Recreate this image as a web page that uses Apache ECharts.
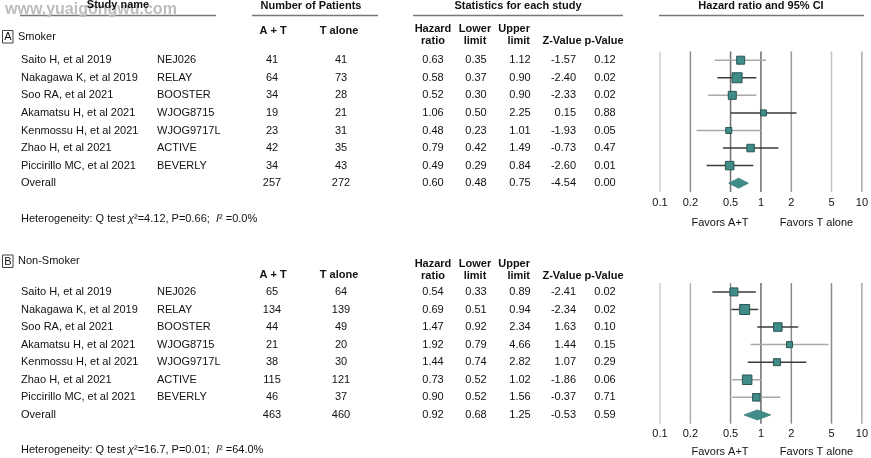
<!DOCTYPE html>
<html><head><meta charset="utf-8">
<script src="https://cdn.jsdelivr.net/npm/echarts@6/dist/echarts.min.js"></script>
<style>html,body{margin:0;padding:0;background:#fff}#main{width:871px;height:458px}</style>
</head><body><div id="main"></div>
<script>
// ---------------- DATA ----------------
const studyNames = ['Saito H, et al 2019','Nakagawa K, et al 2019','Soo RA, et al 2021','Akamatsu H, et al 2021','Kenmossu H, et al 2021','Zhao H, et al 2021','Piccirillo MC, et al 2021','Overall'];
const trialNames = ['NEJ026','RELAY','BOOSTER','WJOG8715','WJOG9717L','ACTIVE','BEVERLY',''];

const smokerAT    = [41, 64, 34, 19, 23, 42, 34, 257];
const smokerT     = [41, 73, 28, 21, 31, 35, 43, 272];
const smokerHR    = [0.63, 0.58, 0.52, 1.06, 0.48, 0.79, 0.49, 0.60];
const smokerLower = [0.35, 0.37, 0.30, 0.50, 0.23, 0.42, 0.29, 0.48];
const smokerUpper = [1.12, 0.90, 0.90, 2.25, 1.01, 1.49, 0.84, 0.75];
const smokerZ     = [-1.57, -2.40, -2.33, 0.15, -1.93, -0.73, -2.60, -4.54];
const smokerP     = [0.12, 0.02, 0.02, 0.88, 0.05, 0.47, 0.01, 0.00];
const smokerHet   = ['4.12', '0.66', '0.0%'];

const nonAT    = [65, 134, 44, 21, 38, 115, 46, 463];
const nonT     = [64, 139, 49, 20, 30, 121, 37, 460];
const nonHR    = [0.54, 0.69, 1.47, 1.92, 1.44, 0.73, 0.90, 0.92];
const nonLower = [0.33, 0.51, 0.92, 0.79, 0.74, 0.52, 0.52, 0.68];
const nonUpper = [0.89, 0.94, 2.34, 4.66, 2.82, 1.02, 1.56, 1.25];
const nonZ     = [-2.41, -2.34, 1.63, 1.44, 1.07, -1.86, -0.37, -0.53];
const nonP     = [0.02, 0.02, 0.10, 0.15, 0.29, 0.06, 0.71, 0.59];
const nonHet   = ['16.7', '0.01', '64.0%'];

const hrTicks = [0.1, 0.2, 0.5, 1, 2, 5, 10];

// ---------------- STYLE / LAYOUT ----------------
const FONT = '"Liberation Sans", Arial, Helvetica, sans-serif';
const TXT = '#111';
const FILL = '#3f8c88';
const EDGE = '#2b5553';
const ROW_STEP = 17.57;
const sizesA = [8, 10, 8, 6, 6, 7.5, 8.5];
const sizesB = [8, 10, 8.5, 6, 7, 9.5, 7.5];
const DARK = '#3a3a3a', LIGHT = '#a8a8a8';
const ciColA = [LIGHT, DARK, LIGHT, DARK, LIGHT, DARK, DARK];
const ciColB = [DARK, DARK, DARK, LIGHT, DARK, LIGHT, LIGHT];
const refColA = ['#cfcfcf', '#8c8c8c', '#707070', '#6a6a6a', '#9a9a9a', '#c4c4c4', '#a8a8a8'];
const refColB = ['#cfcfcf', '#b0b0b0', '#8a8a8a', '#6a6a6a', '#8a8a8a', '#8a8a8a', '#a8a8a8'];
// column anchors (x px) and alignment
const cols = [
  {x: 21,  align: 'left'},
  {x: 157, align: 'left'},
  {x: 272, align: 'center'},
  {x: 341, align: 'center'},
  {x: 433, align: 'center'},
  {x: 476, align: 'center'},
  {x: 520, align: 'center'},
  {x: 576, align: 'right'},
  {x: 605, align: 'center'}
];
const PLOT_LEFT = 660, PLOT_W = 205;

const panels = [
  {row0: 60.2, at: smokerAT, t: smokerT, hr: smokerHR, lo: smokerLower, hi: smokerUpper, z: smokerZ, p: smokerP,
   sizes: sizesA, ciCol: ciColA, refCol: refColA, het: smokerHet},
  {row0: 291.9, at: nonAT, t: nonT, hr: nonHR, lo: nonLower, hi: nonUpper, z: nonZ, p: nonP,
   sizes: sizesB, ciCol: ciColB, refCol: refColB, het: nonHet}
];

const grid = [], xAxis = [], yAxis = [], series = [];

panels.forEach((pn, k) => {
  const top = pn.row0 - ROW_STEP / 2;
  const h = ROW_STEP * 8;
  // table grid
  grid.push({left: 0, width: 871, top: top, height: h});
  xAxis.push({type: 'value', gridIndex: 2 * k, min: 0, max: 871, show: false});
  yAxis.push({type: 'value', gridIndex: 2 * k, min: -0.5, max: 7.5, inverse: true, show: false});
  // forest grid
  grid.push({left: PLOT_LEFT, width: PLOT_W, top: top, height: h});
  xAxis.push({
    type: 'log', logBase: 10, gridIndex: 2 * k + 1, min: 0.1, max: 10,
    axisLine: {show: false}, axisTick: {show: false}, splitLine: {show: false},
    axisLabel: {customValues: hrTicks, formatter: v => String(+(+v).toPrecision(3)), color: TXT, fontSize: 11, fontFamily: FONT, margin: 5, showMinLabel: true, showMaxLabel: true}
  });
  yAxis.push({type: 'value', gridIndex: 2 * k + 1, min: -0.5, max: 7.5, inverse: true, show: false});

  // table cells
  const cells = [];
  for (let i = 0; i < 8; i++) {
    const vals = [studyNames[i], trialNames[i], String(pn.at[i]), String(pn.t[i]),
      pn.hr[i].toFixed(2), pn.lo[i].toFixed(2), pn.hi[i].toFixed(2), pn.z[i].toFixed(2), pn.p[i].toFixed(2)];
    vals.forEach((v, c) => { if (v !== '') cells.push({x: cols[c].x, row: i, text: v, align: cols[c].align}); });
  }
  series.push({
    type: 'custom', xAxisIndex: 2 * k, yAxisIndex: 2 * k, silent: true,
    data: cells.map(c => [c.x, c.row]),
    encode: {x: 0, y: 1},
    renderItem: (params, api) => {
      const c = cells[params.dataIndex];
      const pt = api.coord([api.value(0), api.value(1)]);
      return {type: 'text', x: pt[0], y: pt[1], style: {text: c.text, fill: TXT, fontSize: 11, fontFamily: FONT, align: c.align, verticalAlign: 'middle'}};
    }
  });

  // reference vertical lines
  series.push({
    type: 'custom', xAxisIndex: 2 * k + 1, yAxisIndex: 2 * k + 1, silent: true,
    data: hrTicks.map(v => [v, 0]),
    encode: {x: 0, y: 1},
    renderItem: (params, api) => {
      const x = api.coord([api.value(0), 0])[0];
      const cs = params.coordSys;
      return {type: 'line', shape: {x1: x, y1: cs.y, x2: x, y2: cs.y + cs.height},
        style: {stroke: pn.refCol[params.dataIndex], lineWidth: 1.5}};
    }
  });

  // forest marks
  series.push({
    type: 'custom', xAxisIndex: 2 * k + 1, yAxisIndex: 2 * k + 1, silent: true, z: 5,
    data: pn.hr.map((v, i) => [i, v, pn.lo[i], pn.hi[i]]),
    encode: {x: [1, 2, 3], y: 0},
    renderItem: (params, api) => {
      const i = params.dataIndex;
      const row = api.value(0);
      const pC = api.coord([api.value(1), row]);
      const pL = api.coord([api.value(2), row]);
      const pH = api.coord([api.value(3), row]);
      if (i === 7) {
        const dh = 5;
        return {type: 'polygon', shape: {points: [[pL[0], pC[1]], [pC[0], pC[1] - dh], [pH[0], pC[1]], [pC[0], pC[1] + dh]]},
          style: {fill: FILL, stroke: '#3a7d79', lineWidth: 0.8}};
      }
      const s = pn.sizes[i];
      return {type: 'group', children: [
        {type: 'line', shape: {x1: pL[0], y1: pC[1], x2: pH[0], y2: pC[1]}, style: {stroke: pn.ciCol[i], lineWidth: 1.5}},
        {type: 'rect', shape: {x: pC[0] - s / 2, y: pC[1] - s / 2, width: s, height: s}, style: {fill: FILL, stroke: EDGE, lineWidth: 1}}
      ]};
    }
  });
});

// ---------------- static texts ----------------
function T(text, x, y, opt) {
  opt = opt || {};
  return {type: 'text', x: x, y: y, silent: true, z: opt.z || 10,
    style: Object.assign({text: text, fill: TXT, fontSize: 11, fontFamily: FONT, fontWeight: opt.bold ? 'bold' : 'normal',
      align: opt.align || 'center', verticalAlign: 'middle'}, opt.rich ? {rich: opt.rich} : {})};
}
function L(x1, y1, x2, y2) {
  return {type: 'line', silent: true, shape: {x1, y1, x2, y2}, style: {stroke: '#777', lineWidth: 1.5}};
}
const B = {bold: true};
const italic = {i: {fontStyle: 'italic', fontSize: 11, fontFamily: FONT, fill: TXT}};
const graphic = [
  // watermark
  {type: 'text', x: 5, y: 10, silent: true, z: 1, style: {text: 'www.yuaigongwu.com', fill: '#bdbdbd', fontSize: 16, fontWeight: 'bold', fontFamily: FONT, align: 'left', verticalAlign: 'middle'}},
  T('Study name', 118, 5, B),
  T('Number of Patients', 311, 6, B),
  T('Statistics for each study', 518, 6, B),
  T('Hazard ratio and 95% CI', 761, 6, B),
  L(20, 15.5, 216, 15.5), L(252, 15.5, 378, 15.5), L(413, 15.5, 623, 15.5), L(659, 15.5, 864, 15.5),
  // panel A headers
  {type: 'rect', silent: true, shape: {x: 2.5, y: 30.5, width: 10.5, height: 12.5}, style: {fill: '#fff', stroke: '#444', lineWidth: 1}},
  T('A', 7.8, 37, {}),
  T('Smoker', 18, 37, {align: 'left', z: 10}),
  T('A + T', 273, 31, B), T('T alone', 339, 31, B),
  T('Hazard', 433, 28.5, B), T('ratio', 433, 40.5, B),
  T('Lower', 475, 28.5, B), T('limit', 475, 40.5, B),
  T('Upper', 530, 28.5, {bold: true, align: 'right'}), T('limit', 530, 40.5, {bold: true, align: 'right'}),
  T('Z-Value', 562, 40.5, B), T('p-Value', 604, 40.5, B),
  // panel B headers
  {type: 'rect', silent: true, shape: {x: 2.5, y: 255, width: 10.5, height: 12.5}, style: {fill: '#fff', stroke: '#444', lineWidth: 1}},
  T('B', 7.8, 261.5, {}),
  T('Non-Smoker', 18, 261, {align: 'left'}),
  T('A + T', 273, 275, B), T('T alone', 339, 275, B),
  T('Hazard', 433, 264, B), T('ratio', 433, 275.5, B),
  T('Lower', 475, 264, B), T('limit', 475, 275.5, B),
  T('Upper', 530, 264, {bold: true, align: 'right'}), T('limit', 530, 275.5, {bold: true, align: 'right'}),
  T('Z-Value', 562, 275.5, B), T('p-Value', 604, 275.5, B),
  // favors
  T('Favors A+T', 720, 222.5), T('Favors T alone', 816.5, 222.5),
  T('Favors A+T', 720, 452), T('Favors T alone', 816.5, 452),
  // heterogeneity
  T('Heterogeneity: Q test {i|χ}²=' + smokerHet[0] + ', P=' + smokerHet[1] + ';  {i|I}² =' + smokerHet[2], 21, 219, {align: 'left', rich: italic}),
  T('Heterogeneity: Q test {i|χ}²=' + nonHet[0] + ', P=' + nonHet[1] + ';  {i|I}² =' + nonHet[2], 21, 449.5, {align: 'left', rich: italic})
];

const chart = echarts.init(document.getElementById('main'), null, {renderer: 'canvas', width: 871, height: 458});
chart.setOption({
  backgroundColor: '#fff',
  animation: false,
  grid, xAxis, yAxis, series, graphic
});
</script>
</body></html>
